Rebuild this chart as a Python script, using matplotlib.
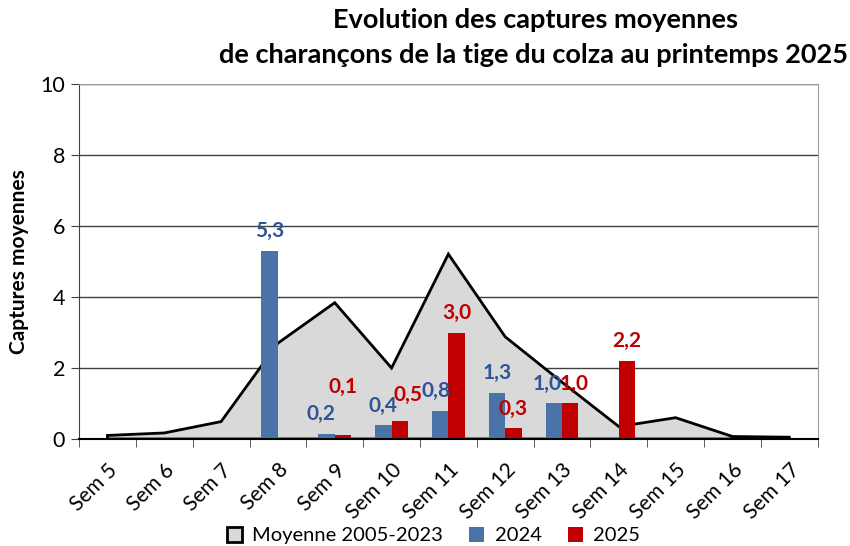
import matplotlib
matplotlib.use("Agg")
from matplotlib import pyplot as plt
import numpy as np

plt.rcParams['font.family'] = ['Lato', 'DejaVu Sans']

weeks = ["Sem 5", "Sem 6", "Sem 7", "Sem 8", "Sem 9", "Sem 10", "Sem 11",
         "Sem 12", "Sem 13", "Sem 14", "Sem 15", "Sem 16", "Sem 17"]
moyenne = [0.10, 0.17, 0.49, 2.7, 3.84, 2.0, 5.21, 2.88, 1.6, 0.35, 0.6, 0.07, 0.05]
y2024 = [np.nan, np.nan, np.nan, 5.3, 0.15, 0.38, 0.8, 1.3, 1.0, np.nan, np.nan, np.nan, np.nan]
y2025 = [np.nan, np.nan, np.nan, np.nan, 0.1, 0.5, 3.0, 0.3, 1.0, 2.2, np.nan, np.nan, np.nan]
lab2024 = [None, None, None, "5,3", "0,2", "0,4", "0,8", "1,3", "1,0", None, None, None, None]
lab2025 = [None, None, None, None, "0,1", "0,5", "3,0", "0,3", "1,0", "2,2", None, None, None]

blue = "#4A74A8"
red = "#C00000"
blue_txt = "#2F5597"

fig = plt.figure(figsize=(8.5, 5.46), dpi=100)
ax = fig.add_axes([0.093, 0.196, 0.869, 0.65])

x = np.arange(len(weeks))
w = 0.29

# area for the long-term average
px = np.concatenate([[x[0]], x, [x[-1]]])
py = np.concatenate([[0], moyenne, [0]])
ax.fill(px, py, facecolor="#D9D9D9", edgecolor="black", linewidth=2, zorder=2,
        label="Moyenne 2005-2023")

ax.bar(x - w / 2, y2024, width=w, color=blue, zorder=3, label="2024")
ax.bar(x + w / 2, y2025, width=w, color=red, zorder=3, label="2025")

# small nudges (points) for labels that Excel moved around
nudge24 = {4: (-4, 0), 6: (-3, 0), 8: (-5, 0)}
nudge25 = {4: (0, 21), 5: (6, 5), 8: (3, 0)}
for i in range(len(weeks)):
    if lab2024[i]:
        dx, dy = nudge24.get(i, (0, 0))
        ax.annotate(lab2024[i], (x[i] - w / 2, y2024[i]), xytext=(dx, 14 + dy),
                    textcoords="offset points", ha="center", va="center",
                    fontsize=15, fontweight="bold", color=blue_txt, zorder=5)
    if lab2025[i]:
        dx, dy = nudge25.get(i, (0, 0))
        ax.annotate(lab2025[i], (x[i] + w / 2, y2025[i]), xytext=(dx, 14 + dy),
                    textcoords="offset points", ha="center", va="center",
                    fontsize=15, fontweight="bold", color=red, zorder=5)

ax.set_xlim(-0.5, len(weeks) - 0.5)
ax.set_ylim(0, 10)
ax.set_yticks(range(0, 11, 2))
ax.yaxis.grid(True, color="#404040", linewidth=1)
ax.set_axisbelow(True)

ax.set_xticks(x)
ax.set_xticklabels(weeks, rotation=45, ha="right", rotation_mode="anchor", fontsize=15)
ax.set_xticks(np.arange(-0.5, len(weeks)), minor=True)
ax.tick_params(axis="x", which="major", length=0, pad=15)
ax.tick_params(axis="x", which="minor", length=6, color="#404040", direction="out")
ax.tick_params(axis="y", length=6, color="#404040", labelsize=15.5, pad=4)

for s in ["top", "right"]:
    ax.spines[s].set_color("#A0A0A0")
ax.spines["left"].set_color("#404040")
ax.spines["bottom"].set_color("black")
ax.spines["bottom"].set_linewidth(1.5)
ax.spines["bottom"].set_zorder(4)

ax.set_ylabel("Captures moyennes", fontsize=15, fontweight="bold", labelpad=8)

fig.text(0.63, 0.963, "Evolution des captures moyennes", ha="center", va="center",
         fontsize=19.5, fontweight="bold")
fig.text(0.628, 0.899, "de charançons de la tige du colza au printemps 2025", ha="center",
         va="center", fontsize=19.5, fontweight="bold")

fig.legend(loc="lower center", bbox_to_anchor=(0.51, -0.03), ncol=3, frameon=False,
           fontsize=14.5, handlelength=0.75, handleheight=0.75, handletextpad=0.5,
           columnspacing=1.3)

fig.savefig("out.png", dpi=100)
